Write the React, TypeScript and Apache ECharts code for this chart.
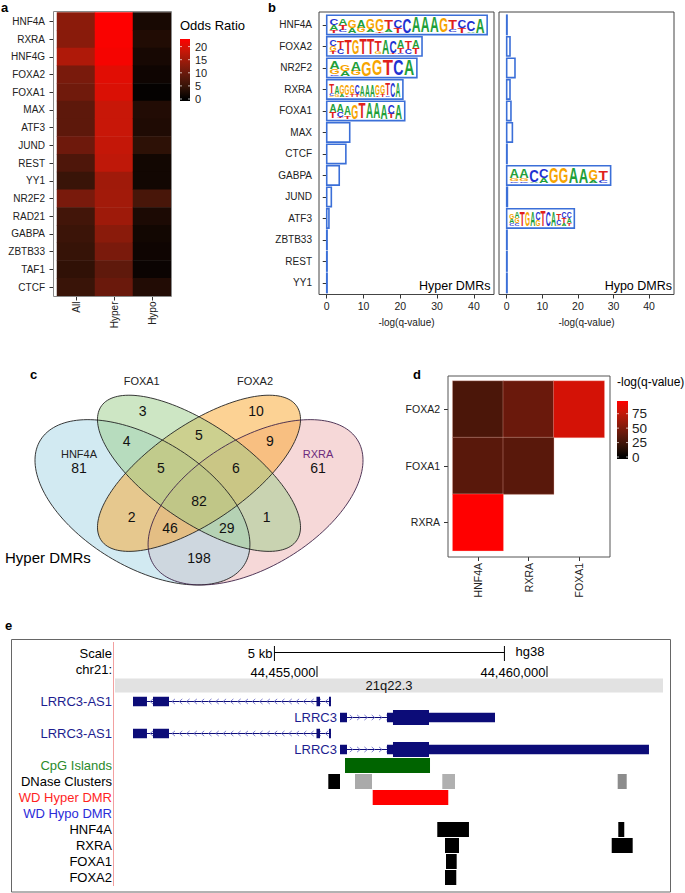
import React, { useEffect, useRef } from 'react';
import * as echarts from 'echarts';

const FONT = '"Liberation Sans", Arial, Helvetica, sans-serif';

// ---------------- panel a : odds ratio heatmap ----------------
const tfNamesA = ['HNF4A', 'RXRA', 'HNF4G', 'FOXA2', 'FOXA1', 'MAX', 'ATF3', 'JUND', 'REST', 'YY1', 'NR2F2', 'RAD21', 'GABPA', 'ZBTB33', 'TAF1', 'CTCF'];
const groupNamesA = ['All', 'Hyper', 'Hypo'];
const oddsAll = [13, 12.8, 16.2, 11.3, 10.5, 8.7, 8.7, 10.3, 7.2, 5.1, 11.3, 6, 5.3, 4.8, 4.2, 5.1];
const oddsHyper = [22.9, 22.4, 22.1, 20.4, 19.8, 18.3, 18.3, 18, 17.5, 14.9, 15, 14.7, 12.9, 11.4, 8.9, 9.9];
const oddsHypo = [2.1, 2.9, 2, 1.3, 0.4, 3, 2.7, 4, 1.6, 1.6, 6.6, 2.5, 1.6, 1.3, 1, 3];
const oddsTicks = [0, 5, 10, 15, 20];
const oddsMax = 22.9;

// ---------------- panel b : motif enrichment ----------------
const motifNames = ['HNF4A', 'FOXA2', 'NR2F2', 'RXRA', 'FOXA1', 'MAX', 'CTCF', 'GABPA', 'JUND', 'ATF3', 'ZBTB33', 'REST', 'YY1'];
const qHyper = [43.6, 25.9, 24.5, 20.7, 21.2, 6.25, 5.2, 3.4, 1.25, 0.6, 0.1, 0.1, 0.1];
const qHypo = [0.1, 0.93, 2.33, 0.93, 1.2, 1.6, 0.1, 29.2, 0.2, 19, 0.1, 0.1, 0.1];
const qTicks = [0, 10, 20, 30, 40];
const logoHyper = [
  'C4A3T2 A4T3C2 G5A3 A5G3 G7A2 G8T1 T6A2 C5T3 C9 A A A G9 T6C2 C5T3 C7A1 A9',
  'C4G3T2 T5C3 T9 G9 T T T7G2 A9 C8T1 A5T3C1 T5C3 A5T4',
  'A5G3C1 G4A3 A6G3 G9 G T C A',
  'T6C2G1 A5G2 G6A2 G7T1 G6T2 C6T2 A7G1 A8 A8 G7T1 G6T2 T8C1 C9 A9',
  'A5T4 A5C3T1 A6T2 G9 T A A A9 C6T3 A9',
  '', '', '', '', '', '', '', '',
];
const logoHypo = [
  '', '', '', '', '', '', '',
  'A6G2C1 A6G2C1 C8A1 C6A3 G G A A9 G7A2 T6C2',
  '',
  'G3A3C2 A4G3C2 T9 G9 A9 C5G4 T C9 A9 T4C3G1 C4T3A2 C4A3T2',
  '', '', '',
];

// ---------------- panel c : Venn diagram ----------------
const vennSetNames = ['HNF4A', 'FOXA1', 'FOXA2', 'RXRA'];
const vennRegionCounts = [81, 3, 10, 61, 4, 5, 9, 5, 6, 82, 2, 1, 46, 29, 198];
// geometry of the 4-set Venn layout (unit square): cx, cy, a, b, angle
const vennEllipses = [
  [0.35, 0.47, 0.35, 0.2, 135],
  [0.5, 0.57, 0.35, 0.15, 135],
  [0.5, 0.57, 0.35, 0.15, 45],
  [0.65, 0.47, 0.35, 0.2, 45],
];
const vennRegionPos = [
  [0.1817, 0.589], [0.3507, 0.785], [0.651, 0.785], [0.8156, 0.589],
  [0.308, 0.681], [0.5, 0.702], [0.688, 0.681],
  [0.3992, 0.589], [0.598, 0.589], [0.5, 0.4755],
  [0.3215, 0.42], [0.6796, 0.42], [0.423, 0.381], [0.5735, 0.381], [0.5, 0.279],
];
const vennSetPos = [[0.1817, 0.6366], [0.348, 0.888], [0.6485, 0.888], [0.8156, 0.6366]];

// ---------------- panel d : co-occurrence heatmap ----------------
const coCols = ['HNF4A', 'RXRA', 'FOXA1'];
const coRows = ['RXRA', 'FOXA1', 'FOXA2'];
const coQ = [[0, 2, 29], [1, 2, 42], [2, 2, 82], [0, 1, 35], [1, 1, 35], [0, 0, 97]];
const coTicks = [0, 25, 50, 75];
const coMax = 97;

// ---------------- panel e : genome browser ----------------
const trackRows = ['scale', 'ruler', 'band', 'as1a', 'lrrc3a', 'as1b', 'lrrc3b', 'cpg', 'dnase', 'hyper', 'hypo', 'hnf4a', 'rxra', 'foxa1', 'foxa2'];
const trackLabels = ['Scale', 'chr21:', '', 'LRRC3-AS1', '', 'LRRC3-AS1', '', 'CpG Islands', 'DNase Clusters', 'WD Hyper DMR', 'WD Hypo DMR', 'HNF4A', 'RXRA', 'FOXA1', 'FOXA2'];
const viewStart = 44450609;
const viewEnd = 44462522;
const rulerTicks = [44455000, 44460000];
const scaleBar = [44454075, 44459075];
const scaleLabel = '5 kb';
const assembly = 'hg38';
const bandName = '21q22.3';
const lrrc3As1Exons = [[44451000, 44451304], [44451435, 44451783], [44454989, 44455065], [44455261, 44455304]];
const lrrc3ExonsA = [[44455500, 44455652], [44456522, 44458870]];
const lrrc3ExonsB = [[44455500, 44455652], [44456522, 44462217]];
const lrrc3Cds = [44456652, 44457435];
const cpgIslands = [[44455609, 44457457]];
const dnaseClusters = [[44455246, 44455500], [44455826, 44456196], [44457724, 44458000], [44461537, 44461733]];
const dnaseScores = [1000, 333, 310, 450];
const hyperDmrs = [[44456211, 44457854]];
const hypoDmrs: number[][] = [];
const hnf4aPeaks = [[44457615, 44458304], [44461550, 44461680]];
const rxraPeaks = [[44457783, 44458087], [44461407, 44461863]];
const foxa1Peaks = [[44457804, 44458037]];
const foxa2Peaks = [[44457783, 44458028]];

// ---------------- styles ----------------
const GRAD = ['#000000', '#341307', '#62190C', '#931B0B', '#C81708', '#FF0000'];
const BAR_BLUE = '#3B6FD8';
const GENE = '#0c0c78';
const LW: any = { A: 0.722, C: 0.722, G: 0.778, T: 0.611 };
const LC: any = { A: '#1FA03A', C: '#1F32D1', G: '#F7A400', T: '#E0201B' };
const VENN_FILL = ['rgba(165,213,229,0.5)', 'rgba(155,205,137,0.5)', 'rgba(249,165,41,0.5)', 'rgba(237,177,177,0.5)'];

function tstyle(text: string, size: number, fill: string, align = 'center', vAlign = 'middle', weight = 'normal') {
  return { text, fill, fontSize: size, fontFamily: FONT, fontWeight: weight, align, verticalAlign: vAlign, textAlign: align, textVerticalAlign: vAlign };
}

function parseLogo(s: string) {
  return s.trim().split(/\s+/).map((col) => {
    const out: any[] = [];
    const re = /([ACGT])(\d?)/g;
    let m: any;
    while ((m = re.exec(col))) out.push([m[1], m[2] === '' ? 1 : Number(m[2]) / 10]);
    return out;
  });
}

function motifRender(logos: string[]) {
  return (params: any, api: any) => {
    const row = api.value(0);
    const v = api.value(1);
    const p0 = api.coord([0, row]);
    const p1 = api.coord([v, row]);
    const band = api.size([0, 1])[1];
    const h = band * 0.9;
    const x0 = p0[0];
    const y0 = p0[1] - h / 2;
    const w = Math.max(p1[0] - p0[0], 0.3);
    const children: any[] = [
      { type: 'rect', shape: { x: x0, y: y0, width: w, height: h }, style: { fill: '#ffffff', stroke: BAR_BLUE, lineWidth: 1.6 } },
    ];
    const logo = logos[params.dataIndex];
    if (logo) {
      const cols = parseLogo(logo);
      const ix = x0 + 2.5;
      const iy = y0 + 2;
      const iw = w - 5;
      const ih = h - 4;
      const cw = iw / cols.length;
      const fs = 20;
      cols.forEach((col: any[], ci: number) => {
        let yb = iy + ih;
        for (let k = col.length - 1; k >= 0; k--) {
          const L = col[k][0];
          const lh = col[k][1] * ih;
          children.push({
            type: 'text',
            x: ix + cw * (ci + 0.5),
            y: yb - lh / 2,
            scaleX: (cw * 0.96) / (LW[L] * fs),
            scaleY: lh / (0.716 * fs),
            style: { ...tstyle(L, fs, LC[L], 'center', 'middle', 'bold'), lineHeight: 14 },
          });
          yb -= lh;
        }
      });
    }
    return { type: 'group', children };
  };
}

function colorbarRender(max: number, ticks: number[], labelGap: number, labelSize: number) {
  return (params: any, api: any) => {
    const top = api.coord([0, max]);
    const bot = api.coord([1, 0]);
    const x = top[0];
    const w = bot[0] - top[0];
    const stops = GRAD.map((c, i) => ({ offset: i / (GRAD.length - 1), color: c }));
    const children: any[] = [
      { type: 'rect', shape: { x, y: bot[1], width: w, height: 2 }, style: { fill: '#000' } },
      { type: 'rect', shape: { x, y: top[1], width: w, height: bot[1] - top[1] }, style: { fill: new echarts.graphic.LinearGradient(0, 1, 0, 0, stops) } },
    ];
    ticks.forEach((t) => {
      const p = api.coord([0, t]);
      children.push({ type: 'line', shape: { x1: x, y1: p[1], x2: x + 2, y2: p[1] }, style: { stroke: 'rgba(255,255,255,0.85)', lineWidth: 0.8 } });
      children.push({ type: 'line', shape: { x1: x + w - 2, y1: p[1], x2: x + w, y2: p[1] }, style: { stroke: 'rgba(255,255,255,0.85)', lineWidth: 0.8 } });
      children.push({ type: 'text', x: x + w + labelGap, y: p[1], style: { ...tstyle(String(t), labelSize, '#222', 'left', 'middle'), lineHeight: labelSize } });
    });
    return { type: 'group', children };
  };
}

function buildOption() {
  const oddsCols = [oddsAll, oddsHyper, oddsHypo];
  const heatA: number[][] = [];
  oddsCols.forEach((col, xi) => col.forEach((v, yi) => heatA.push([xi, yi, v])));

  // venn
  const vennShapeData = [[3, 0], [0, 0], [2, 0], [1, 0], [0, 1], [1, 1], [2, 1], [3, 1]];
  const vennLabelData = vennRegionCounts.map((c, i) => [i, c]).concat(vennSetNames.map((s, i) => [100 + i, 0]));

  // genome tracks
  const FULL = 15;
  const CDS = 15;
  const UTR = 9.5;
  const rectItems: any[] = [];
  [3, 5].forEach((r) => lrrc3As1Exons.forEach(([s, e]) => rectItems.push({ row: r, s, e, h: UTR, color: GENE })));
  ([[4, lrrc3ExonsA], [6, lrrc3ExonsB]] as any[]).forEach(([r, ex]) => {
    ex.forEach(([s, e]: number[]) => {
      rectItems.push({ row: r, s, e, h: UTR, color: GENE });
      const cs = Math.max(s, lrrc3Cds[0]);
      const ce = Math.min(e, lrrc3Cds[1]);
      if (ce > cs) rectItems.push({ row: r, s: cs, e: ce, h: CDS, color: GENE });
    });
  });
  cpgIslands.forEach(([s, e]) => rectItems.push({ row: 7, s, e, h: FULL, color: '#006400' }));
  dnaseClusters.forEach(([s, e], i) => {
    const g = Math.round(255 - dnaseScores[i] * 0.255);
    rectItems.push({ row: 8, s, e, h: FULL, color: `rgb(${g},${g},${g})` });
  });
  hyperDmrs.forEach(([s, e]) => rectItems.push({ row: 9, s, e, h: FULL, color: '#ff0000' }));
  hypoDmrs.forEach(([s, e]) => rectItems.push({ row: 10, s, e, h: FULL, color: '#0000ff' }));
  [hnf4aPeaks, rxraPeaks, foxa1Peaks, foxa2Peaks].forEach((peaks, k) =>
    peaks.forEach(([s, e]) => rectItems.push({ row: 11 + k, s, e, h: FULL, color: '#000000' }))
  );
  const intronItems = [
    { row: 3, s: lrrc3As1Exons[0][0], e: lrrc3As1Exons[lrrc3As1Exons.length - 1][1], dir: -1 },
    { row: 5, s: lrrc3As1Exons[0][0], e: lrrc3As1Exons[lrrc3As1Exons.length - 1][1], dir: -1 },
    { row: 4, s: lrrc3ExonsA[0][0], e: lrrc3ExonsA[lrrc3ExonsA.length - 1][1], dir: 1 },
    { row: 6, s: lrrc3ExonsB[0][0], e: lrrc3ExonsB[lrrc3ExonsB.length - 1][1], dir: 1 },
  ];
  const geneLabelItems = [
    { row: 4, pos: lrrc3ExonsA[0][0], text: 'LRRC3' },
    { row: 6, pos: lrrc3ExonsB[0][0], text: 'LRRC3' },
  ];
  const labelKey = ['k', 'k', 'k', 'n', 'k', 'n', 'k', 'g', 'k', 'r', 'b', 'k', 'k', 'k', 'k'];

  const tickStyle = { color: '#333', width: 1 };
  const axText = { color: '#222', fontFamily: FONT };

  const xAxis: any[] = [
    { gridIndex: 0, type: 'category', data: groupNamesA, offset: 0.5, axisLine: { show: false }, axisTick: { show: true, alignWithLabel: true, length: 4, lineStyle: tickStyle }, axisLabel: { ...axText, rotate: 90, fontSize: 10, margin: 5, interval: 0 }, splitLine: { show: false } },
    { gridIndex: 1, type: 'value', min: 0, max: 1, show: false },
    { gridIndex: 2, type: 'value', min: -2.1, max: 45.46, offset: 0.85, axisLine: { show: false }, axisTick: { show: true, customValues: qTicks, length: 4, lineStyle: tickStyle }, axisLabel: { ...axText, customValues: qTicks, fontSize: 10.5, margin: 6, showMinLabel: true, showMaxLabel: true }, splitLine: { show: false }, name: '-log(q-value)', nameLocation: 'middle', nameGap: 23, nameTextStyle: { ...axText, fontSize: 10 } },
    { gridIndex: 3, type: 'value', min: -2.16, max: 47, offset: 0.85, axisLine: { show: false }, axisTick: { show: true, customValues: qTicks, length: 4, lineStyle: tickStyle }, axisLabel: { ...axText, customValues: qTicks, fontSize: 10.5, margin: 6, showMinLabel: true, showMaxLabel: true }, splitLine: { show: false }, name: '-log(q-value)', nameLocation: 'middle', nameGap: 23, nameTextStyle: { ...axText, fontSize: 10 } },
    { gridIndex: 4, type: 'value', min: 0, max: 1, show: false },
    { gridIndex: 5, type: 'category', data: coCols, offset: 6.3, axisLine: { show: false }, axisTick: { show: true, alignWithLabel: true, length: 4, lineStyle: tickStyle }, axisLabel: { ...axText, rotate: 90, fontSize: 10.5, margin: 6, interval: 0 }, splitLine: { show: false } },
    { gridIndex: 6, type: 'value', min: 0, max: 1, show: false },
    { gridIndex: 7, type: 'value', min: viewStart, max: viewEnd, show: false },
  ];
  const yAxis: any[] = [
    { gridIndex: 0, type: 'category', data: tfNamesA, inverse: true, offset: 3.5, axisLine: { show: false }, axisTick: { show: true, alignWithLabel: true, length: 4, lineStyle: tickStyle }, axisLabel: { ...axText, fontSize: 10, margin: 8.5, interval: 0 }, splitLine: { show: false } },
    { gridIndex: 1, type: 'value', min: 0, max: oddsMax, show: false },
    { gridIndex: 2, type: 'category', data: motifNames, inverse: true, axisLine: { show: false }, axisTick: { show: true, alignWithLabel: true, length: 4, lineStyle: tickStyle }, axisLabel: { ...axText, fontSize: 10, margin: 7, interval: 0 }, splitLine: { show: false } },
    { gridIndex: 3, type: 'category', data: motifNames, inverse: true, show: false },
    { gridIndex: 4, type: 'value', min: 0, max: 1, show: false },
    { gridIndex: 5, type: 'category', data: coRows, offset: 4.7, axisLine: { show: false }, axisTick: { show: true, alignWithLabel: true, length: 4, lineStyle: tickStyle }, axisLabel: { ...axText, fontSize: 10.5, margin: 8, interval: 0 }, splitLine: { show: false } },
    { gridIndex: 6, type: 'value', min: 0, max: coMax, show: false },
    {
      gridIndex: 7, type: 'category', data: trackRows, inverse: true, axisLine: { show: false }, axisTick: { show: false }, splitLine: { show: false },
      axisLabel: {
        interval: 0, margin: 3, fontSize: 13, fontFamily: FONT,
        formatter: (_v: string, i: number) => (trackLabels[i] ? `{${labelKey[i]}|${trackLabels[i]}}` : ''),
        rich: {
          k: { color: '#000', fontSize: 13, fontFamily: FONT },
          n: { color: '#1d1d8f', fontSize: 13, fontFamily: FONT },
          g: { color: '#2a8a2a', fontSize: 13, fontFamily: FONT },
          r: { color: '#ff1f1f', fontSize: 13, fontFamily: FONT },
          b: { color: '#2b2bd9', fontSize: 13, fontFamily: FONT },
        },
      },
    },
  ];

  const series: any[] = [
    // 0 heatmap a
    { type: 'heatmap', xAxisIndex: 0, yAxisIndex: 0, data: heatA, emphasis: { disabled: true }, itemStyle: { borderWidth: 0 } },
    // 1 colorbar a
    { type: 'custom', xAxisIndex: 1, yAxisIndex: 1, data: [[0, 0]], renderItem: colorbarRender(oddsMax, oddsTicks, 5, 11), silent: true },
    // 2 motif hyper
    { type: 'custom', xAxisIndex: 2, yAxisIndex: 2, encode: { x: 1, y: 0 }, data: qHyper.map((v, i) => [i, v]), renderItem: motifRender(logoHyper), silent: true },
    // 3 motif hypo
    { type: 'custom', xAxisIndex: 3, yAxisIndex: 3, encode: { x: 1, y: 0 }, data: qHypo.map((v, i) => [i, v]), renderItem: motifRender(logoHypo), silent: true },
    // 4 venn shapes
    {
      type: 'custom', xAxisIndex: 4, yAxisIndex: 4, data: vennShapeData, silent: true,
      renderItem: (params: any, api: any) => {
        const i = api.value(0);
        const mode = api.value(1);
        const [cx, cy, a, b, ang] = vennEllipses[i];
        const phi = (ang * Math.PI) / 180;
        const pts: number[][] = [];
        const N = 160;
        for (let k = 0; k < N; k++) {
          const t = (k / N) * 2 * Math.PI;
          const u = a * Math.cos(t);
          const v = b * Math.sin(t);
          pts.push(api.coord([cx + u * Math.cos(phi) - v * Math.sin(phi), cy + u * Math.sin(phi) + v * Math.cos(phi)]));
        }
        return {
          type: 'polygon', shape: { points: pts },
          style: mode === 0 ? { fill: VENN_FILL[i], stroke: 'none' } : { fill: 'none', stroke: i === 3 ? '#3e2448' : '#222', lineWidth: 0.9 },
        };
      },
    },
    // 5 venn labels
    {
      type: 'custom', xAxisIndex: 4, yAxisIndex: 4, data: vennLabelData, silent: true,
      renderItem: (params: any, api: any) => {
        const id = api.value(0);
        if (id >= 100) {
          const k = id - 100;
          const p = api.coord(vennSetPos[k]);
          return { type: 'text', x: p[0], y: p[1], style: tstyle(vennSetNames[k], 11, k === 3 ? '#6c2a7c' : '#222') };
        }
        const p = api.coord(vennRegionPos[id]);
        return { type: 'text', x: p[0], y: p[1], style: tstyle(String(api.value(1)), 14, '#111') };
      },
    },
    // 6 heatmap d
    { type: 'heatmap', xAxisIndex: 5, yAxisIndex: 5, data: coQ, emphasis: { disabled: true }, itemStyle: { borderColor: 'rgba(255,200,190,0.55)', borderWidth: 0.6 } },
    // 7 colorbar d
    { type: 'custom', xAxisIndex: 6, yAxisIndex: 6, data: [[0, 0]], renderItem: colorbarRender(coMax, coTicks, 4, 13.5), silent: true },
    // 8 band
    {
      type: 'custom', xAxisIndex: 7, yAxisIndex: 7, encode: { x: [1, 2], y: 0 }, data: [[2, viewStart, viewEnd]], silent: true,
      renderItem: (params: any, api: any) => {
        const a = api.coord([api.value(1), api.value(0)]);
        const b = api.coord([api.value(2), api.value(0)]);
        return {
          type: 'group',
          children: [
            { type: 'rect', shape: { x: a[0], y: a[1] - 7, width: b[0] - a[0], height: 14 }, style: { fill: '#e2e2e2' } },
            { type: 'text', x: (a[0] + b[0]) / 2, y: a[1], style: tstyle(bandName, 13, '#111') },
          ],
        };
      },
    },
    // 9 scale bar
    {
      type: 'custom', xAxisIndex: 7, yAxisIndex: 7, encode: { x: [1, 2], y: 0 }, data: [[0, scaleBar[0], scaleBar[1]]], silent: true,
      renderItem: (params: any, api: any) => {
        const a = api.coord([api.value(1), api.value(0)]);
        const b = api.coord([api.value(2), api.value(0)]);
        const y = a[1];
        return {
          type: 'group',
          children: [
            { type: 'line', shape: { x1: a[0], y1: y - 1, x2: b[0], y2: y - 1 }, style: { stroke: '#000', lineWidth: 1 } },
            { type: 'line', shape: { x1: a[0], y1: y - 7.5, x2: a[0], y2: y + 7.5 }, style: { stroke: '#000', lineWidth: 1 } },
            { type: 'line', shape: { x1: b[0], y1: y - 7.5, x2: b[0], y2: y + 7.5 }, style: { stroke: '#000', lineWidth: 1 } },
            { type: 'text', x: a[0] - 2, y: y, style: tstyle(scaleLabel, 13, '#000', 'right') },
            { type: 'text', x: b[0] + 11, y: y - 2.5, style: tstyle(assembly, 13, '#000', 'left') },
          ],
        };
      },
    },
    // 10 ruler
    {
      type: 'custom', xAxisIndex: 7, yAxisIndex: 7, encode: { x: 1, y: 0 }, data: rulerTicks.map((t) => [1, t]), silent: true,
      renderItem: (params: any, api: any) => {
        const p = api.coord([api.value(1), api.value(0)]);
        return {
          type: 'group',
          children: [
            { type: 'line', shape: { x1: p[0], y1: p[1] - 3.5, x2: p[0], y2: p[1] + 7.5 }, style: { stroke: '#000', lineWidth: 1 } },
            { type: 'text', x: p[0] - 1.5, y: p[1] + 2.5, style: tstyle(api.value(1).toLocaleString('en-US'), 13, '#000', 'right') },
          ],
        };
      },
    },
    // 11 introns
    {
      type: 'custom', xAxisIndex: 7, yAxisIndex: 7, encode: { x: [1, 2], y: 0 }, data: intronItems.map((it) => [it.row, it.s, it.e]), silent: true,
      renderItem: (params: any, api: any) => {
        const it = intronItems[params.dataIndex];
        const a = api.coord([api.value(1), api.value(0)]);
        const b = api.coord([api.value(2), api.value(0)]);
        const y = a[1];
        const children: any[] = [{ type: 'line', shape: { x1: a[0], y1: y, x2: b[0], y2: y }, style: { stroke: GENE, lineWidth: 1 } }];
        for (let x = a[0] + 4; x < b[0] - 3; x += 7.3) {
          const d = it.dir;
          children.push({ type: 'polyline', shape: { points: [[x - 1.5 * d, y - 2.6], [x + 1.5 * d, y], [x - 1.5 * d, y + 2.6]] }, style: { stroke: '#7070c8', lineWidth: 0.9, fill: 'none' } });
        }
        return { type: 'group', children };
      },
    },
    // 12 blocks
    {
      type: 'custom', xAxisIndex: 7, yAxisIndex: 7, encode: { x: [1, 2], y: 0 }, data: rectItems.map((it) => [it.row, it.s, it.e]), silent: true,
      renderItem: (params: any, api: any) => {
        const it = rectItems[params.dataIndex];
        const a = api.coord([api.value(1), api.value(0)]);
        const b = api.coord([api.value(2), api.value(0)]);
        return { type: 'rect', shape: { x: a[0], y: a[1] - it.h / 2, width: Math.max(b[0] - a[0], 1), height: it.h }, style: { fill: it.color } };
      },
    },
    // 13 gene labels
    {
      type: 'custom', xAxisIndex: 7, yAxisIndex: 7, encode: { x: 1, y: 0 }, data: geneLabelItems.map((g) => [g.row, g.pos]), silent: true,
      renderItem: (params: any, api: any) => {
        const g = geneLabelItems[params.dataIndex];
        const p = api.coord([api.value(1), api.value(0)]);
        return { type: 'text', x: p[0] - 3, y: p[1], style: tstyle(g.text, 13, '#1d1d8f', 'right') };
      },
    },
  ];

  const frame = (x: number, y: number, w: number, h: number, c: string) => ({ type: 'rect', z: 100, silent: true, shape: { x, y, width: w, height: h }, style: { fill: 'none', stroke: c, lineWidth: 1 } });
  const label = (t: string, x: number, y: number, size: number, align = 'left', weight = 'normal', fill = '#000') => ({ type: 'text', z: 100, silent: true, x, y, style: tstyle(t, size, fill, align, 'middle', weight) });

  const graphic = [
    frame(53.5, 11.5, 118, 285, '#8a8a8a'),
    frame(319, 12, 175, 282.5, '#444'),
    frame(499, 12, 175, 282.5, '#444'),
    frame(448, 376, 162, 181, '#555'),
    frame(11.5, 639.5, 659, 252.5, '#666'),
    { type: 'line', z: 100, silent: true, shape: { x1: 113.5, y1: 642, x2: 113.5, y2: 886 }, style: { stroke: '#f2a0a0', lineWidth: 1 } },
    label('a', 1, 7, 13, 'left', 'bold'),
    label('b', 268, 7, 13, 'left', 'bold'),
    label('c', 30, 374, 13, 'left', 'bold'),
    label('d', 413, 374, 13, 'left', 'bold'),
    label('e', 5, 625, 13, 'left', 'bold'),
    label('Odds Ratio', 180, 25, 13),
    label('-log(q-value)', 617, 382, 12),
    label('Hyper DMRs', 490.5, 286, 12.5, 'right'),
    label('Hypo DMRs', 672, 286, 12.5, 'right'),
    label('Hyper DMRs', 5, 557, 15),
  ];

  return {
    animation: false,
    backgroundColor: '#ffffff',
    textStyle: { fontFamily: FONT },
    grid: [
      { left: 57, top: 12.5, width: 114, height: 283.5 },
      { left: 180, top: 39, width: 10, height: 60 },
      { left: 319, top: 14.15, width: 175, height: 279.5 },
      { left: 499, top: 14.15, width: 175, height: 279.5 },
      { left: 10.5, top: 348.6, width: 377, height: 290 },
      { left: 452.7, top: 381, width: 151.6, height: 169.7 },
      { left: 617, top: 401, width: 11, height: 56 },
      { left: 115, top: 645.5, width: 548, height: 240 },
    ],
    xAxis,
    yAxis,
    visualMap: [
      { type: 'continuous', seriesIndex: 0, dimension: 2, min: 0, max: oddsMax, show: false, inRange: { color: GRAD } },
      { type: 'continuous', seriesIndex: 6, dimension: 2, min: 0, max: coMax, show: false, inRange: { color: GRAD } },
    ],
    series,
    graphic: { elements: graphic },
  };
}

export default function App() {
  const ref = useRef<HTMLDivElement>(null);
  useEffect(() => {
    if (!ref.current) return;
    const chart = echarts.init(ref.current, null, { renderer: 'svg' });
    chart.setOption(buildOption() as any);
    return () => chart.dispose();
  }, []);
  return <div ref={ref} style={{ position: 'absolute', left: 0, top: 0, width: 685, height: 893, background: '#fff' }} />;
}
